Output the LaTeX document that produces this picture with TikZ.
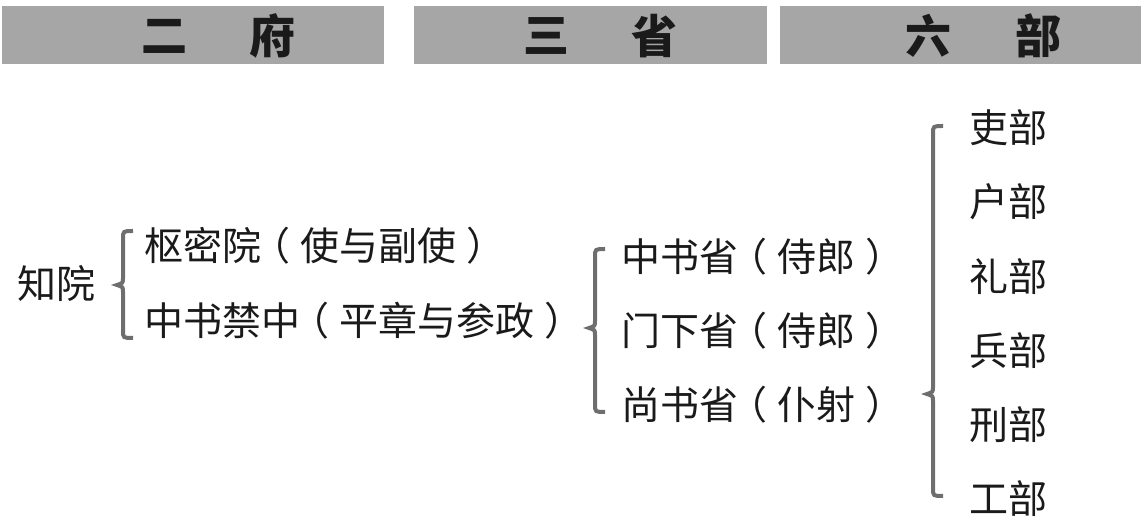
\documentclass[tikz,border=0pt]{standalone}
\usepackage{fontspec}
\setmainfont{Noto Sans CJK SC}
\usepackage{xcolor}
\usetikzlibrary{positioning,calc}
\definecolor{barfill}{HTML}{A6A6A6}
\definecolor{bracegray}{HTML}{6E6E6E}
\definecolor{ink}{HTML}{1A1A1A}
% full-width parentheses with the glyph centred in its cell
\newcommand{\lpar}{\makebox[1em][l]{\kern-0.25em（}}
\newcommand{\rpar}{\makebox[1em][l]{\kern0.25em）}}
% brace opening to the right: x of stem, top y, tip y, bottom y
\newcommand{\openbrace}[4]{%
  \draw[brc] (#1+10,#2) .. controls (#1,#2) .. (#1,#2+8) -- (#1,#3-7)
    .. controls (#1,#3-2) .. (#1-6,#3) .. controls (#1,#3+2) .. (#1,#3+7)
    -- (#1,#4-8) .. controls (#1,#4) .. (#1+10,#4);}

\begin{document}
\begin{tikzpicture}[
  x=0.5pt, y=-0.5pt,
  bar/.style={fill=barfill, draw=none},
  hdr/.style={font=\fontsize{23}{23}\selectfont\bfseries, text=ink, inner sep=0pt},
  lbl/.style={font=\fontsize{19.5}{19.5}\selectfont, text=ink, inner sep=0pt, anchor=west},
  brc/.style={draw=bracegray, line width=2pt}
]
  \useasboundingbox (0,0) rectangle (1144,528);

  \fill[bar] (2,6) rectangle (384,64);
  \fill[bar] (414,6) rectangle (767,64);
  \fill[bar] (780,6) rectangle (1141,64);
  \node[hdr] (er) at (164,36) {二};
  \node[hdr] (fu) at (272,36) {府};
  \node[hdr] (san) at (546,36) {三};
  \node[hdr] (sheng) at (654,36) {省};
  \node[hdr] (liu) at (928,36) {六};
  \node[hdr] (bu) at (1038,36) {部};

  \node[lbl] (zhiyuan) at (17,284) {知院};
  \openbrace{123}{231}{285}{338}
  \node[lbl] (shumi) at (144,246) {枢密院\lpar 使与副使\rpar};
  \node[lbl] (jinzhong) at (144,321) {中书禁中\lpar 平章与参政\rpar};

  \openbrace{595}{249}{328}{412}
  \node[lbl] (zhongshu) at (621,257) {中书省\lpar 侍郎\rpar};
  \node[lbl] (menxia) at (621,331) {门下省\lpar 侍郎\rpar};
  \node[lbl] (shangshu) at (621,405) {尚书省\lpar 仆射\rpar};

  \openbrace{933}{126}{394}{496}
  \foreach \m [count=\i] in {吏,户,礼,兵,刑,工}
    \node[lbl] (bu\i) at (969,128+74.2*\i-74.2) {\m 部};
\end{tikzpicture}
\end{document}
